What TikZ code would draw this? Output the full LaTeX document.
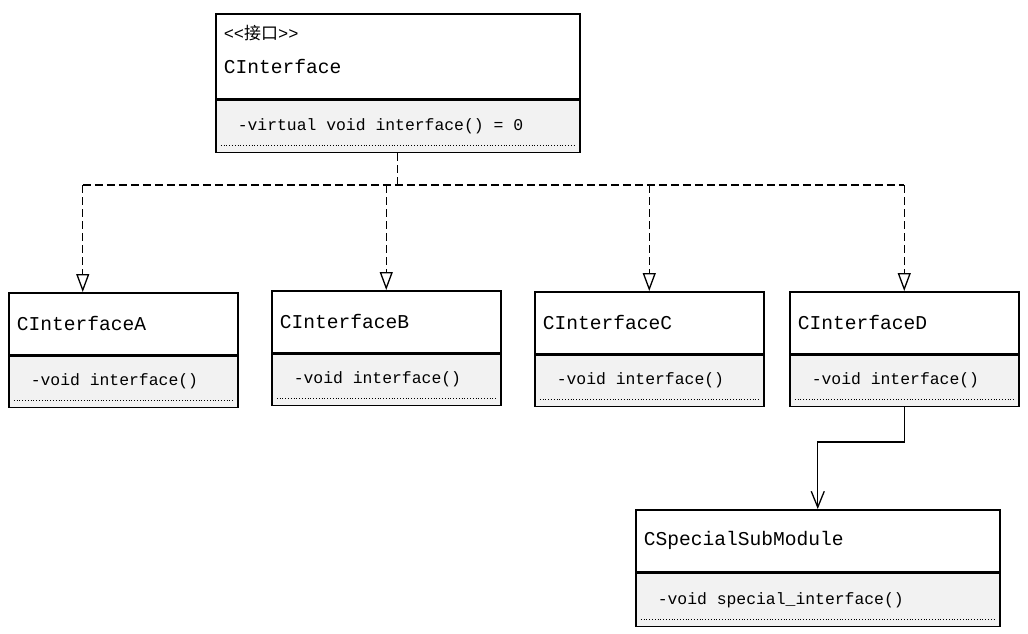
\documentclass[tikz,border=0pt]{standalone}
\usepackage{fontspec}
\setmonofont{Liberation Mono}
\newfontfamily\cjk{Noto Sans CJK SC}
\usetikzlibrary{positioning,arrows.meta}
\definecolor{opsgray}{RGB}{242,242,242}
\newcommand\wordsp{\spaceskip=.6em\relax}
\tikzset{
  head/.style={draw, line width=.75pt, fill=white, anchor=north west, align=left,
    inner xsep=4pt, text width=#1, minimum height=31pt,
    font=\ttfamily\fontsize{9.8}{12}\selectfont, execute at begin node=\wordsp},
  ops/.style={draw, line width=.75pt, fill=opsgray, align=left, inner xsep=11pt,
    text width=#1, minimum height=25.5pt,
    font=\ttfamily\fontsize{8.2}{10}\selectfont, execute at begin node=\wordsp,
    path picture={\draw[densely dotted, line width=.4pt]
      ([shift={(2.5pt,3.5pt)}]path picture bounding box.south west) --
      ([shift={(-2.5pt,3.5pt)}]path picture bounding box.south east);}},
  realize/.style={dashed, dash pattern=on 4pt off 2pt, line width=.65pt},
  assoc/.style={line width=.65pt, -{Straight Barb[length=8pt,width=6.5pt]}}
}
\begin{document}
\begin{tikzpicture}[x=.5pt,y=-.5pt]
\useasboundingbox (0,0) rectangle (1028,633);
% the interface
\node[head=174pt, minimum height=42.5pt] (ifc) at (215,13)
  {{\fontsize{8.5}{11}\selectfont <<{\cjk 接口}>>}\\[5pt]CInterface\\[-5pt]\mbox{}};
\node[ops=160pt, minimum height=26pt, below=0pt of ifc] (ifcm) {-virtual void interface() = 0};
% implementations
\node[head=106.5pt] (a) at (8,292) {CInterfaceA};
\node[ops=92.5pt, below=0pt of a] (am) {-void interface()};
\node[head=106.5pt] (b) at (271,290) {CInterfaceB};
\node[ops=92.5pt, below=0pt of b] (bm) {-void interface()};
\node[head=106.5pt] (c) at (534,291) {CInterfaceC};
\node[ops=92.5pt, below=0pt of c] (cm) {-void interface()};
\node[head=106.5pt] (d) at (789,291) {CInterfaceD};
\node[ops=92.5pt, below=0pt of d] (dm) {-void interface()};
% sub module
\node[head=174pt] (s) at (635,509) {CSpecialSubModule};
\node[ops=160pt, minimum height=26.5pt, below=0pt of s] (sm) {-void special\_interface()};
% connectors
\coordinate (bus) at (0,185);
\coordinate (atop) at ([xshift=-20.25pt]a.north);
\draw[realize] (ifcm.south) -- (ifcm.south |- bus);
\draw[realize] (atop |- bus) -- (d.north |- bus);
\draw[realize, -{Triangle[open,length=9pt,width=6.5pt]}] (atop |- bus) -- (atop);
\draw[realize, -{Triangle[open,length=9pt,width=6.5pt]}] (b.north |- bus) -- (b.north);
\draw[realize, -{Triangle[open,length=9pt,width=6.5pt]}] (c.north |- bus) -- (c.north);
\draw[realize, -{Triangle[open,length=9pt,width=6.5pt]}] (d.north |- bus) -- (d.north);
\draw[assoc] (dm.south) -- ++(0,35) -| (s.north);
\end{tikzpicture}
\end{document}
